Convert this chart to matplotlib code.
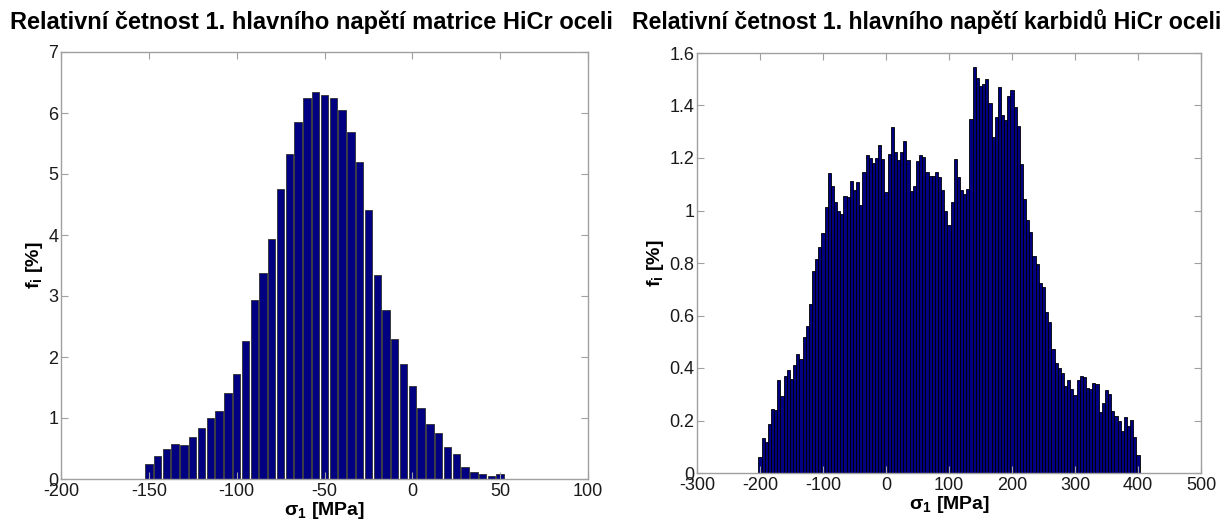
import numpy as np
import matplotlib
matplotlib.use('Agg')
from matplotlib import pyplot as plt

plt.rcParams['font.family'] = ['Liberation Sans', 'DejaVu Sans']
plt.rcParams['axes.unicode_minus'] = False
plt.rcParams['mathtext.fontset'] = 'custom'
plt.rcParams['mathtext.rm'] = 'Liberation Sans:bold'
plt.rcParams['mathtext.bf'] = 'Liberation Sans:bold'
plt.rcParams['mathtext.it'] = 'Liberation Sans:bold'

# matrice: stred tridy 5 MPa, -150 .. 50
sigma_matrix = np.arange(-150, 51, 5)
f_matrix = [0.246, 0.37, 0.49, 0.58, 0.55, 0.69, 0.84, 1.0, 1.11, 1.41,
            1.72, 2.27, 2.93, 3.37, 3.94, 4.75, 5.33, 5.86, 6.25, 6.35,
            6.29, 6.25, 6.05, 5.69, 5.19, 4.41, 3.35, 2.77, 2.29, 1.88,
            1.53, 1.17, 0.90, 0.76, 0.53, 0.405, 0.19, 0.12, 0.088, 0.055,
            0.08]

# karbidy: stred tridy 5 MPa, -200 .. 400
sigma_carbide = np.arange(-200, 401, 5)
f_carbide = [0.06, 0.133, 0.12, 0.185, 0.245, 0.24, 0.353, 0.295, 0.37, 0.394,
             0.36, 0.41, 0.453, 0.435, 0.518, 0.56, 0.645, 0.77, 0.817, 0.86,
             0.914, 1.013, 1.143, 1.092, 1.032, 0.997, 0.985, 1.055, 1.053, 1.111,
             1.077, 1.107, 1.021, 1.145, 1.213, 1.2, 1.18, 1.2, 1.248, 1.196,
             1.07, 1.215, 1.318, 1.222, 1.194, 1.222, 1.263, 1.191, 1.073, 1.095,
             1.187, 1.211, 1.203, 1.147, 1.133, 1.13, 1.145, 1.128, 1.08, 1.0,
             0.943, 1.032, 1.196, 1.129, 1.077, 1.063, 1.083, 1.35, 1.547, 1.505,
             1.473, 1.482, 1.501, 1.41, 1.28, 1.356, 1.47, 1.365, 1.343, 1.435,
             1.458, 1.393, 1.323, 1.177, 1.045, 0.965, 0.919, 0.828, 0.797, 0.724,
             0.709, 0.615, 0.574, 0.472, 0.419, 0.399, 0.381, 0.33, 0.353, 0.32,
             0.297, 0.353, 0.368, 0.366, 0.324, 0.32, 0.343, 0.339, 0.231, 0.267,
             0.315, 0.302, 0.235, 0.218, 0.197, 0.159, 0.212, 0.18, 0.203, 0.137,
             0.07]

titles = ['Relativní četnost 1. hlavního napětí matrice HiCr oceli',
          'Relativní četnost 1. hlavního napětí karbidů HiCr oceli']

W, H = 1226, 523
fig = plt.figure(figsize=(W / 100, H / 100), dpi=100)


def box(l, r, t, b):
    return [l / W, 1 - b / H, (r - l) / W, (b - t) / H]


def style(ax):
    for s in ax.spines.values():
        s.set_color('#a0a0a0')
        s.set_linewidth(1.0)
    ax.tick_params(direction='in', top=True, right=True, length=5,
                   color='#a0a0a0', labelsize=13, labelcolor='#1a1a1a', pad=3)
    ax.tick_params(axis='y', pad=2)
    ax.set_xlabel('σ$_1$ [MPa]', fontsize=14, fontweight='bold', labelpad=0)
    ax.set_ylabel('f$_i$ [%]', fontsize=14, fontweight='bold', labelpad=2)


ax1 = fig.add_axes(box(61, 588, 52, 479))
ax1.bar(sigma_matrix, f_matrix, width=4.2, color='#000080',
        edgecolor='#303030', linewidth=0.6)
ax1.set_xlim(-200, 100)
ax1.set_ylim(0, 7)
ax1.set_xticks(np.arange(-200, 101, 50))
ax1.set_yticks(np.arange(0, 8, 1))
style(ax1)

ax2 = fig.add_axes(box(697, 1201, 53, 473))
ax2.bar(sigma_carbide, f_carbide, width=5, color='#000080',
        edgecolor='#000000', linewidth=0.6)
ax2.set_xlim(-300, 500)
ax2.set_ylim(0, 1.6)
ax2.set_xticks(np.arange(-300, 501, 100))
ax2.set_yticks(np.arange(0, 1.61, 0.2))
ax2.set_yticklabels(['0', '0.2', '0.4', '0.6', '0.8', '1', '1.2', '1.4', '1.6'])
style(ax2)

fig.text(311 / W, 1 - 22 / H, titles[0], ha='center', va='center',
         fontsize=17, fontweight='bold')
fig.text(927 / W, 1 - 22 / H, titles[1], ha='center', va='center',
         fontsize=16.7, fontweight='bold')

fig.savefig('out.png', dpi=100)
